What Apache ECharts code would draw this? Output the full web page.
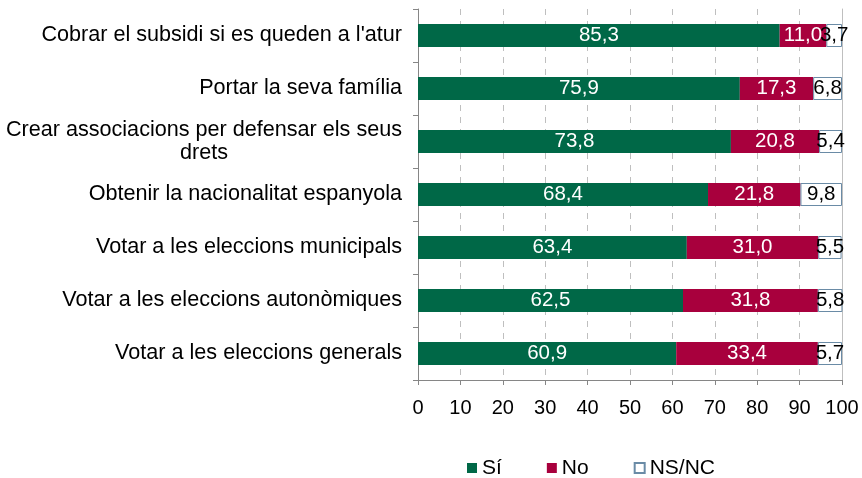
<!DOCTYPE html>
<html><head><meta charset="utf-8">
<script src="https://cdn.jsdelivr.net/npm/echarts@6/dist/echarts.min.js"></script>
<style>html,body{margin:0;padding:0;background:#fff}#c{width:862px;height:478px}</style>
</head><body><div id="c"></div>
<script>
const categories = [
  "Cobrar el subsidi si es queden a l'atur",
  "Portar la seva família",
  "Crear associacions per defensar els seus\ndrets",
  "Obtenir la nacionalitat espanyola",
  "Votar a les eleccions municipals",
  "Votar a les eleccions autonòmiques",
  "Votar a les eleccions generals"
];
const si   = [85.3, 75.9, 73.8, 68.4, 63.4, 62.5, 60.9];
const no   = [11.0, 17.3, 20.8, 21.8, 31.0, 31.8, 33.4];
const nsnc = [3.7, 6.8, 5.4, 9.8, 5.5, 5.8, 5.7];
const xTicks = [0,10,20,30,40,50,60,70,80,90,100];

const font = 'Liberation Sans, Arial, sans-serif';
const fmt = p => p.value.toFixed(1).replace('.', ',');
const chart = echarts.init(document.getElementById('c'));
chart.setOption({
  animation: false,
  textStyle: {fontFamily: font},
  grid: {left: 418, right: 20, top: 9, bottom: 98, containLabel: false},
  legend: {
    top: 452, left: 462, itemGap: 45, itemWidth: 10, itemHeight: 10,
    icon: 'rect',
    textStyle: {fontSize: 21, color: '#000', fontFamily: font, lineHeight: 22},
    data: ['Sí', 'No', 'NS/NC']
  },
  xAxis: {
    type: 'value', min: xTicks[0], max: xTicks[xTicks.length-1], interval: 10,
    axisLine: {show: true, lineStyle: {color: '#868686'}},
    axisTick: {show: true, length: 5, lineStyle: {color: '#868686'}},
    axisLabel: {fontSize: 20, color: '#000', margin: 18, fontFamily: font},
    splitLine: {show: true, lineStyle: {color: '#BFBFBF', type: [6, 6], width: 1}}
  },
  yAxis: [{
    type: 'category', data: categories, inverse: true,
    axisLine: {show: true, lineStyle: {color: '#868686'}},
    axisTick: {show: true, length: 5, lineStyle: {color: '#868686'}},
    axisLabel: {
      fontSize: 21.6, color: '#000', margin: 16, fontFamily: font, lineHeight: 23,
      formatter: v => v.indexOf('\n') >= 0 ? '{c|' + v + '}' : v,
      rich: {c: {align: 'center', fontSize: 21.6, lineHeight: 23, fontFamily: font, color: '#000'}}
    }
  }, {
    type: 'category', data: categories, inverse: true, position: 'right',
    axisLine: {show: true, lineStyle: {color: '#BFBFBF'}},
    axisTick: {show: false}, axisLabel: {show: false}, splitLine: {show: false}
  }],
  series: [
    {name: 'Sí', type: 'bar', stack: 't', data: si, barWidth: 23,
     itemStyle: {color: '#006847'},
     label: {show: true, position: 'inside', color: '#fff', fontSize: 20.5, fontFamily: font, formatter: fmt}},
    {name: 'No', type: 'bar', stack: 't', data: no, barWidth: 23,
     itemStyle: {color: '#A8003D'},
     label: {show: true, position: 'inside', color: '#fff', fontSize: 20.5, fontFamily: font, formatter: fmt}},
    {name: 'NS/NC', type: 'bar', stack: 't', data: nsnc, barWidth: 23,
     itemStyle: {color: '#fff', borderColor: '#6A8BA6', borderWidth: 1},
     label: {show: true, position: 'inside', color: '#000', fontSize: 20.5, fontFamily: font, formatter: fmt}}
  ]
});
</script></body></html>
